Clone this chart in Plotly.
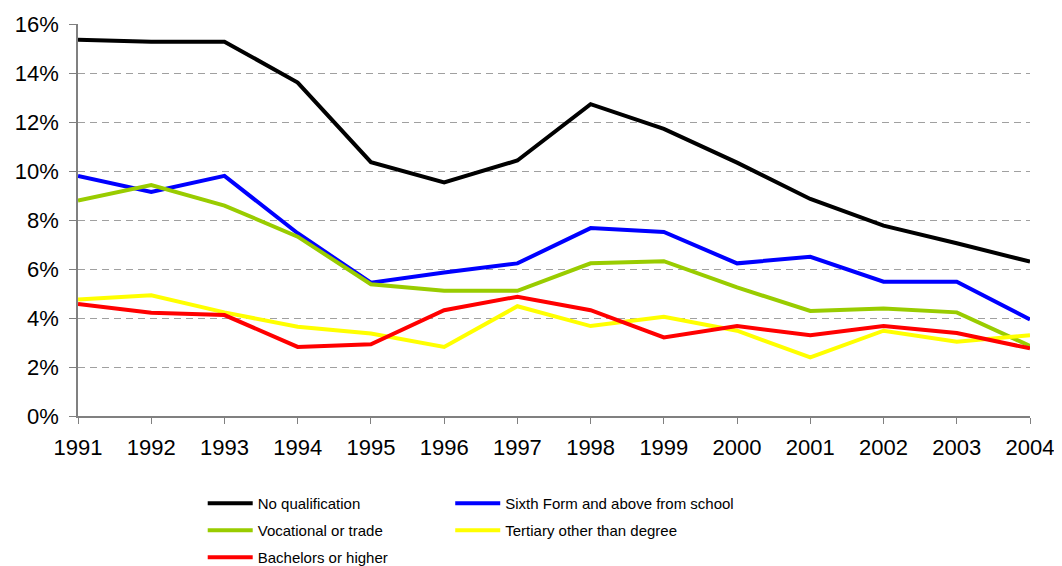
import plotly.graph_objects as go

years = list(range(1991, 2005))
pct_ticks = list(range(0, 17, 2))
pct_labels = [f"{v}%" for v in pct_ticks]

no_qual = [15.36, 15.28, 15.28, 13.61, 10.36, 9.53, 10.43, 12.73, 11.72, 10.34, 8.86, 7.77, 7.05, 6.30]
sixth_form = [9.80, 9.15, 9.80, 7.46, 5.44, 5.86, 6.23, 7.67, 7.51, 6.23, 6.50, 5.48, 5.48, 3.94]
vocational = [8.79, 9.43, 8.59, 7.32, 5.38, 5.11, 5.11, 6.23, 6.32, 5.25, 4.29, 4.39, 4.23, 2.86]
tertiary = [4.76, 4.93, 4.23, 3.64, 3.37, 2.82, 4.48, 3.67, 4.05, 3.48, 2.39, 3.48, 3.03, 3.30]
bachelors = [4.57, 4.21, 4.12, 2.82, 2.93, 4.32, 4.87, 4.32, 3.21, 3.67, 3.30, 3.67, 3.39, 2.76]

# name, values, colour, which legend column
series = [
    ("No qualification", no_qual, "#000000", "legend"),
    ("Sixth Form and above from school", sixth_form, "#0000FF", "legend2"),
    ("Vocational or trade", vocational, "#99CC00", "legend"),
    ("Tertiary other than degree", tertiary, "#FFFF00", "legend2"),
    ("Bachelors or higher", bachelors, "#FF0000", "legend"),
]

FONT = "Liberation Sans, Arial, sans-serif"

fig = go.Figure()

for name, vals, color, leg in series:
    fig.add_trace(go.Scatter(
        x=years, y=vals,
        name=name, mode="lines",
        line=dict(color=color, width=4),
        legend=leg, legendgroup=name,
    ))

# two legend columns, placed in container coords so they don't push the margins
legend_style = dict(
    orientation="v",
    yref="container",
    yanchor="top",
    xanchor="left",
    font=dict(family=FONT, size=15, color="#000000"),
    traceorder="grouped",
    tracegroupgap=4.5,
    itemwidth=45,
    bgcolor="rgba(0,0,0,0)",
)

fig.update_layout(
    width=1062, height=566,
    paper_bgcolor="white",
    plot_bgcolor="white",
    margin=dict(l=70, r=40, t=16, b=158),
    font=dict(family=FONT, color="#000000"),
    xaxis=dict(
        range=[1991, 2004],
        tickmode="array", tickvals=years,
        showgrid=False, zeroline=False,
        showline=True, linecolor="#808080", linewidth=1.5,
        ticks="outside", ticklen=6, tickcolor="#808080",
        tickfont=dict(size=22),
        ticklabelstandoff=5,
        automargin=False,
    ),
    yaxis=dict(
        range=[0, 16],
        tickmode="array", tickvals=pct_ticks, ticktext=pct_labels,
        showgrid=True, gridcolor="#A0A0A0", griddash="7px,5px", gridwidth=1,
        zeroline=False,
        showline=True, linecolor="#808080", linewidth=1.5,
        ticks="outside", ticklen=7, tickcolor="#808080",
        tickfont=dict(size=22),
        ticklabelstandoff=6,
        automargin=False,
    ),
    legend=dict(x=0.131, y=0.1537, **legend_style),
    legend2=dict(x=0.391, y=0.1537, **legend_style),
    showlegend=True,
)

fig.write_html("out.html")
